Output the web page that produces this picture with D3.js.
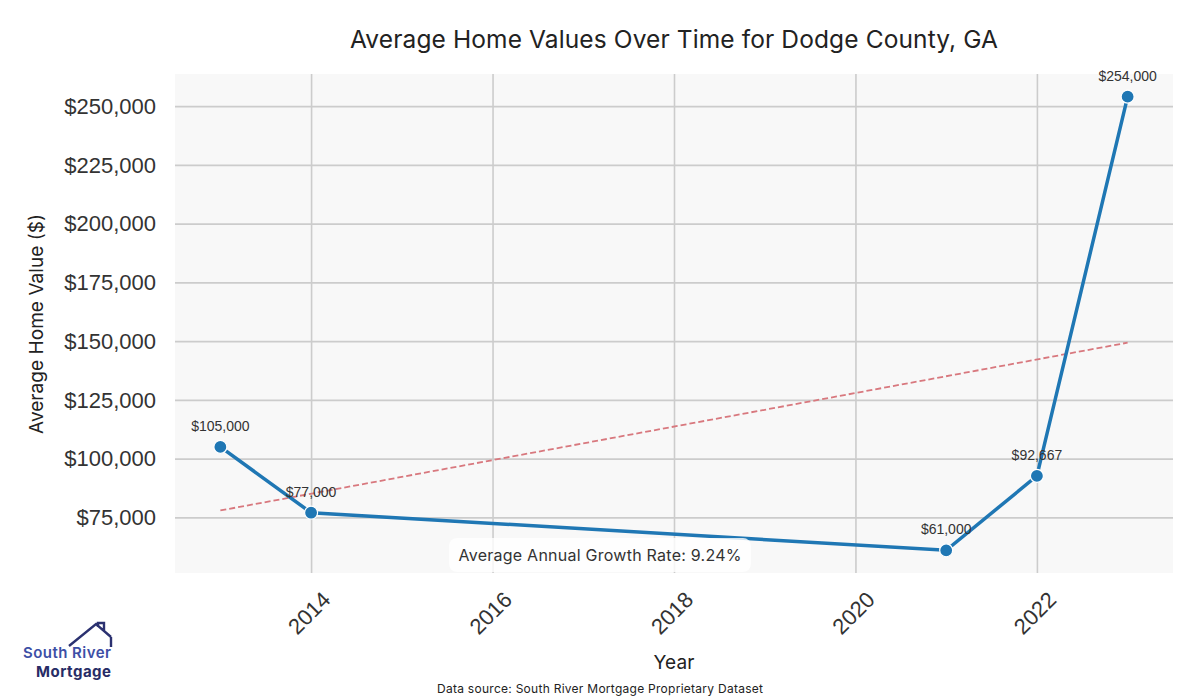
<!DOCTYPE html>
<html>
<head>
<meta charset="utf-8">
<script src="https://cdn.jsdelivr.net/npm/d3@7"></script>
<style>
  body { margin: 0; background: #fff; }
  svg { display: block; }
</style>
</head>
<body>
<svg></svg>
<script>
var width = 1200,
    height = 700;

// values
var years = [2013, 2014, 2021, 2022, 2023];
var values = [105000, 77000, 61000, 92667, 254000];
var labels = ["$105,000", "$77,000", "$61,000", "$92,667", "$254,000"];
var yTicks = [75000, 100000, 125000, 150000, 175000, 200000, 225000, 250000];
var xTicks = [2014, 2016, 2018, 2020, 2022];
var growthText = "Average Annual Growth Rate: 9.24%";

var plot = { left: 175, right: 1173, top: 74, bottom: 573 };

var svg = d3.select("svg")
    .attr("width", width)
    .attr("height", height);

var x = d3.scaleLinear()
    .domain([2012.5, 2023.5])
    .range([plot.left, plot.right]);

// 5% padding like matplotlib
var ext = d3.extent(values), pad = (ext[1] - ext[0]) * 0.05;
var y = d3.scaleLinear()
    .domain([ext[0] - pad, ext[1] + pad])
    .range([plot.bottom, plot.top]);

svg.append("rect")
    .attr("x", plot.left).attr("y", plot.top)
    .attr("width", plot.right - plot.left)
    .attr("height", plot.bottom - plot.top)
    .attr("fill", "#f8f8f8");

// grid
svg.append("g")
    .attr("transform", "translate(0," + plot.bottom + ")")
    .call(d3.axisBottom(x).tickValues(xTicks).tickSize(-(plot.bottom - plot.top)).tickFormat(""))
    .call(g => g.select(".domain").remove())
    .call(g => g.selectAll("line").attr("stroke", "#cccccc").attr("stroke-width", 1.6));

svg.append("g")
    .attr("transform", "translate(" + plot.left + ",0)")
    .call(d3.axisLeft(y).tickValues(yTicks).tickSize(-(plot.right - plot.left)).tickFormat(""))
    .call(g => g.select(".domain").remove())
    .call(g => g.selectAll("line").attr("stroke", "#cccccc").attr("stroke-width", 1.6));

// tick labels
var fmt = d3.format("$,.0f");
svg.append("g").selectAll("text")
    .data(yTicks)
    .join("text")
    .attr("x", 156)
    .attr("y", d => y(d))
    .attr("dy", "0.35em")
    .attr("text-anchor", "end")
    .attr("font-family", "Liberation Sans, Arial, sans-serif")
    .attr("font-size", 22)
    .attr("fill", "#333")
    .text(fmt);

svg.append("g").selectAll("text")
    .data(xTicks)
    .join("text")
    .attr("transform", d => "translate(" + [x(d) - 2, 613] + ") rotate(-45)")
    .attr("dy", "0.35em")
    .attr("text-anchor", "middle")
    .attr("font-family", "Liberation Sans, Arial, sans-serif")
    .attr("font-size", 22)
    .attr("fill", "#333")
    .text(d => d);

// trend line (least squares on the data)
var xm = d3.mean(years), ym = d3.mean(values);
var slope = d3.sum(years, (d, i) => (d - xm) * (values[i] - ym)) / d3.sum(years, d => (d - xm) * (d - xm));
var trend = years.map(d => [d, ym + slope * (d - xm)]);

svg.append("path")
    .datum([trend[0], trend[trend.length - 1]])
    .attr("d", d3.line().x(d => x(d[0])).y(d => y(d[1])))
    .attr("fill", "none")
    .attr("stroke", "#d8787e")
    .attr("stroke-width", 1.8)
    .attr("stroke-dasharray", "6,3");

// main line
var pts = years.map((d, i) => [d, values[i]]);
svg.append("path")
    .datum(pts)
    .attr("d", d3.line().x(d => x(d[0])).y(d => y(d[1])))
    .attr("fill", "none")
    .attr("stroke", "#1f77b4")
    .attr("stroke-width", 3.5);

svg.append("g").selectAll("circle")
    .data(pts)
    .join("circle")
    .attr("cx", d => x(d[0]))
    .attr("cy", d => y(d[1]))
    .attr("r", 6.5)
    .attr("fill", "#1f77b4")
    .attr("stroke", "#fff")
    .attr("stroke-width", 1.2);

svg.append("g").selectAll("text")
    .data(pts)
    .join("text")
    .attr("x", d => x(d[0]))
    .attr("y", d => y(d[1]) - 16)
    .attr("text-anchor", "middle")
    .attr("font-family", "Liberation Sans, Arial, sans-serif")
    .attr("font-size", 14)
    .attr("fill", "#333")
    .text((d, i) => labels[i]);

// growth annotation
var ann = svg.append("g").attr("transform", "translate(600,553)");
ann.append("rect")
    .attr("x", -151).attr("y", -15)
    .attr("width", 302).attr("height", 34)
    .attr("rx", 8)
    .attr("fill", "#fff")
    .attr("fill-opacity", 0.8);
ann.append("text")
    .attr("y", 2)
    .attr("dy", "0.35em")
    .attr("text-anchor", "middle")
    .attr("font-family", "Inter, sans-serif")
    .attr("font-size", 16)
    .attr("textLength", 283)
    .attr("fill", "#333")
    .text(growthText);

// titles
svg.append("text")
    .attr("x", 674).attr("y", 48)
    .attr("text-anchor", "middle")
    .attr("font-family", "Inter, sans-serif")
    .attr("font-size", 24.5)
    .attr("textLength", 648)
    .attr("fill", "#222")
    .text("Average Home Values Over Time for Dodge County, GA");

svg.append("text")
    .attr("x", 674).attr("y", 669)
    .attr("text-anchor", "middle")
    .attr("font-family", "Inter, sans-serif")
    .attr("font-size", 19)
    .attr("textLength", 41)
    .attr("fill", "#222")
    .text("Year");

svg.append("text")
    .attr("transform", "translate(43,324) rotate(-90)")
    .attr("text-anchor", "middle")
    .attr("font-family", "Inter, sans-serif")
    .attr("font-size", 19)
    .attr("textLength", 220)
    .attr("fill", "#222")
    .text("Average Home Value ($)");

svg.append("text")
    .attr("x", 600).attr("y", 693)
    .attr("text-anchor", "middle")
    .attr("font-family", "Inter, sans-serif")
    .attr("font-size", 12)
    .attr("textLength", 326)
    .attr("fill", "#222")
    .text("Data source: South River Mortgage Proprietary Dataset");

// logo
var logo = svg.append("g");
logo.append("path")
    .attr("d", "M69,646 L96,624 L111,637 M98,627 L98,623 L104,623 L104,631 M111,637 L111,647")
    .attr("fill", "none")
    .attr("stroke", "#2b3170")
    .attr("stroke-width", 2.4)
    .attr("stroke-linejoin", "miter");
logo.append("text")
    .attr("x", 111).attr("y", 658)
    .attr("text-anchor", "end")
    .attr("font-family", "Inter, sans-serif")
    .attr("font-weight", 600)
    .attr("font-size", 15)
    .attr("textLength", 88)
    .attr("fill", "#3d4fa6")
    .text("South River");
logo.append("text")
    .attr("x", 111).attr("y", 677)
    .attr("text-anchor", "end")
    .attr("font-family", "Inter, sans-serif")
    .attr("font-weight", 700)
    .attr("font-size", 15)
    .attr("textLength", 75)
    .attr("fill", "#272c66")
    .text("Mortgage");
</script>
</body>
</html>
